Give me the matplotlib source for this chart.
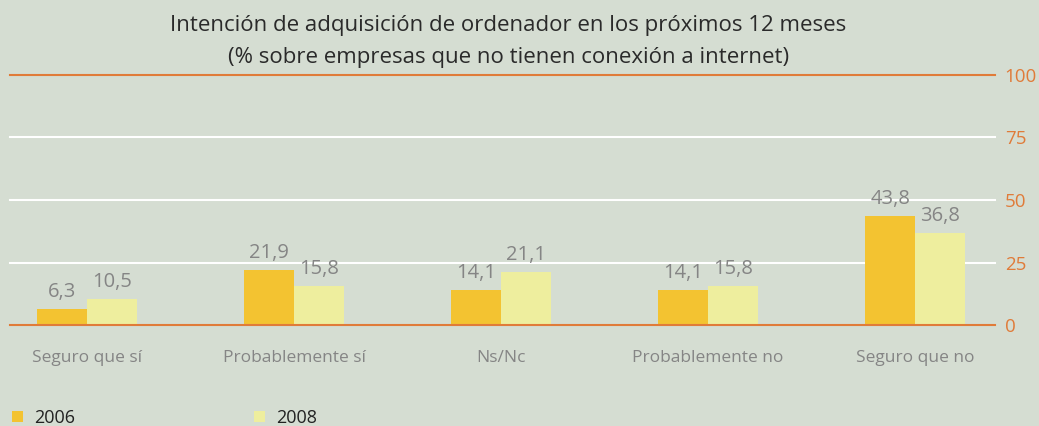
import matplotlib
matplotlib.use("Agg")
import matplotlib.pyplot as plt
import numpy as np

categories = ["Seguro que sí", "Probablemente sí", "Ns/Nc", "Probablemente no", "Seguro que no"]
values_2006 = [6.3, 21.9, 14.1, 14.1, 43.8]
values_2008 = [10.5, 15.8, 21.1, 15.8, 36.8]
series_labels = ["2006", "2008"]
yticks = [0, 25, 50, 75, 100]

BG = "#d5ddd2"
C2006 = "#f3c331"
C2008 = "#eeee9e"
ORANGE = "#e07b39"
GREY = "#858585"

plt.rcParams['font.family'] = ['Open Sans', 'DejaVu Sans']

fig = plt.figure(figsize=(10.39, 4.26), dpi=100, facecolor=BG)
ax = fig.add_axes([0.0096, 0.237, 0.9481, 0.587], facecolor=BG)

x = np.arange(len(categories))
w = 0.242
b1 = ax.bar(x - w/2, values_2006, w, color=C2006, label=series_labels[0], zorder=3)
b2 = ax.bar(x + w/2, values_2008, w, color=C2008, label=series_labels[1], zorder=3)

def fmt(v):
    return f"{v:.1f}".replace(".", ",")

for bars, vals in ((b1, values_2006), (b2, values_2008)):
    for r, v in zip(bars, vals):
        ax.annotate(fmt(v), (r.get_x() + r.get_width()/2, v), xytext=(0, 5),
                    textcoords="offset points", ha="center", va="bottom",
                    color=GREY, fontsize=14.5, zorder=4)

ax.set_xlim(-0.372, 4.386)
ax.set_ylim(0, 100)
for t in yticks:
    col = ORANGE if t in (0, 100) else "white"
    ax.axhline(t, color=col, lw=1.5, zorder=2 if t else 5, clip_on=False)

for s in ax.spines.values():
    s.set_visible(False)
ax.yaxis.tick_right()
ax.set_yticks(yticks)
ax.set_yticklabels([str(t) for t in yticks], color=ORANGE, fontsize=13.5)
ax.tick_params(axis="y", length=0, pad=7)
ax.set_xticks(x)
ax.set_xticklabels(categories, color=GREY, fontsize=12.5)
ax.tick_params(axis="x", length=0, pad=18)

fig.text(0.489, 0.941, "Intención de adquisición de ordenador en los próximos 12 meses",
         ha="center", va="center", fontsize=16, color="#2a2a2a")
fig.text(0.489, 0.866, "(% sobre empresas que no tienen conexión a internet)",
         ha="center", va="center", fontsize=16, color="#2a2a2a")

leg = fig.legend(handles=[b1, b2], labels=series_labels, loc="center left",
                 bbox_to_anchor=(-0.004, 0.019), ncol=2, frameon=False,
                 fontsize=13, handlelength=0.6, handleheight=0.6,
                 handletextpad=0.6, columnspacing=9.95, labelcolor="#222222")

fig.savefig("out.png", dpi=100, facecolor=BG)
